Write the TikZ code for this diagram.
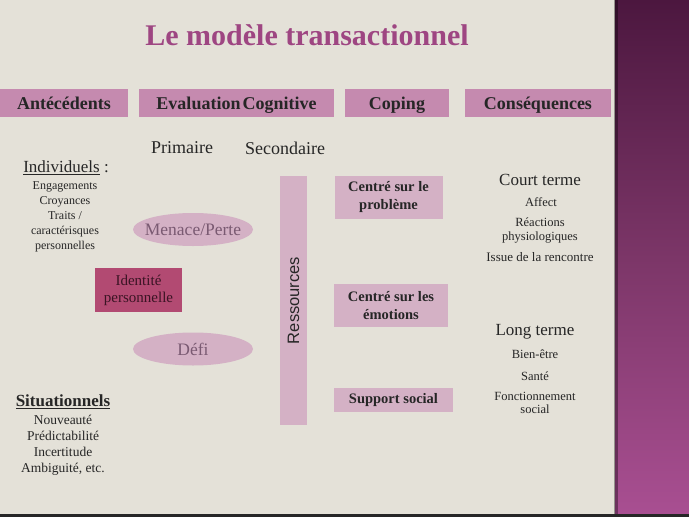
\documentclass[tikz,border=0pt]{standalone}
\usepackage{fontspec}
\setmainfont{Liberation Serif}
\newfontfamily\arialfont{Liberation Sans}
\usetikzlibrary{shapes.geometric}
\definecolor{bg}{HTML}{E4E1D8}
\definecolor{bandtop}{HTML}{4C173F}
\definecolor{bandmid}{HTML}{7C3668}
\definecolor{bandbot}{HTML}{A94F92}
\definecolor{hdrfill}{HTML}{C58AAF}
\definecolor{lightfill}{HTML}{D4B1C5}
\definecolor{idfill}{HTML}{B24A72}
\definecolor{titlecol}{HTML}{9E4682}
\definecolor{txt}{HTML}{262626}
\definecolor{elltxt}{HTML}{7A5A72}
\definecolor{idtxt}{HTML}{3A1424}
\newcommand{\fsz}[1]{\fontsize{#1}{#1}\selectfont}
\tikzset{
  hdr/.style={fill=hdrfill, minimum height=28pt, inner sep=0pt, text height=12pt, text depth=0pt, text=txt, font=\fsz{18}\bfseries},
  copbox/.style={fill=lightfill, inner sep=0pt, text=txt, align=center, font=\fsz{14.5}\bfseries},
  ell/.style={ellipse, fill=lightfill, minimum width=120pt, minimum height=33pt, inner sep=0pt},
  elltext/.style={inner sep=0pt, text=elltxt, font=\fsz{17.5}},
  lbl/.style={text=txt, inner sep=0pt, align=center},
}
\begin{document}
\begin{tikzpicture}[x=1pt,y=-1pt]
\useasboundingbox (0,0) rectangle (689,517);
\fill[bg] (0,0) rectangle (689,517);
\shade[top color=bandtop, bottom color=bandbot, middle color=bandmid] (615,0) rectangle (689,517);
\fill[black, opacity=.35] (614,0) rectangle (618,517);
\fill[black!85] (0,514) rectangle (689,517);

\node[text=titlecol, inner sep=0pt, font=\fsz{30}\bfseries] (title) at (307,35) {Le modèle transactionnel};

\node[hdr, minimum width=128pt] (ant) at (64,103) {Antécédents};
\node[hdr, minimum width=195pt] (eval) at (236.5,103) {Evaluation\hspace{2pt}Cognitive};
\node[hdr, minimum width=104pt] (cop) at (397,103) {Coping};
\node[hdr, minimum width=146pt] (cons) at (538,103) {Conséquences};

\node[lbl, font=\fsz{18}] (prim) at (182,148) {Primaire};
\node[lbl, font=\fsz{18}] (sec) at (285,148) {Secondaire};

\node[lbl, font=\fsz{17}] (indiv) at (66,168) {\underline{Individuels}~:};
\node[lbl, font=\fontsize{12}{15}\selectfont] (indlist) at (65,216.5) {Engagements\\Croyances\\Traits /\\caractérisques\\personnelles};

\node[ell] (menace) at (193,229.5) {};
\node[elltext] (menacetxt) at (menace.center) {Menace/Perte};
\node[ell] (defi) at (193,349) {};
\node[elltext] (defitxt) at (defi.center) {Défi};

\node[fill=idfill, minimum width=87pt, minimum height=44pt, inner sep=0pt, align=center, text=idtxt, font=\fontsize{15}{17}\selectfont] (ident) at (138.5,290) {Identité\\personnelle};

\node[fill=lightfill, minimum width=27pt, minimum height=249pt, inner sep=0pt] (ress) at (293.5,300.5) {};
\node[rotate=90, text=txt, inner sep=0pt, font=\arialfont\fsz{16.5}] (resstxt) at (ress.center) {Ressources};

\node[copbox, minimum width=108pt, minimum height=43pt, font=\fontsize{14.5}{18}\selectfont\bfseries] (prob) at (388.5,197.5) {Centré sur le\\problème};
\node[copbox, minimum width=114pt, minimum height=43pt, font=\fontsize{14.5}{18}\selectfont\bfseries] (emo) at (391,305.5) {Centré sur les\\émotions};
\node[copbox, minimum width=119pt, minimum height=24pt] (supp) at (393.5,400) {Support social};

\node[lbl, font=\fsz{17}\bfseries] (situ) at (63,402) {\underline{Situationnels}};
\node[lbl, font=\fontsize{13.5}{16}\selectfont] (situlist) at (63,445) {Nouveauté\\Prédictabilité\\Incertitude\\Ambiguité, etc.};

\node[lbl, font=\fsz{17}] (court) at (540,180) {Court terme};
\node[lbl, font=\fsz{12.5}] (affect) at (541,202) {Affect};
\node[lbl, font=\fontsize{12.5}{14}\selectfont] (react) at (540,230.5) {Réactions\\physiologiques};
\node[lbl, font=\fsz{13}] (issue) at (540,257) {Issue de la rencontre};

\node[lbl, font=\fsz{17}] (long) at (535,332) {Long terme};
\node[lbl, font=\fsz{12.5}] (bien) at (535,354) {Bien-être};
\node[lbl, font=\fsz{12.5}] (sante) at (535,376) {Santé};
\node[lbl, font=\fontsize{12.5}{13}\selectfont] (fonct) at (535,403) {Fonctionnement\\social};
\end{tikzpicture}
\end{document}
